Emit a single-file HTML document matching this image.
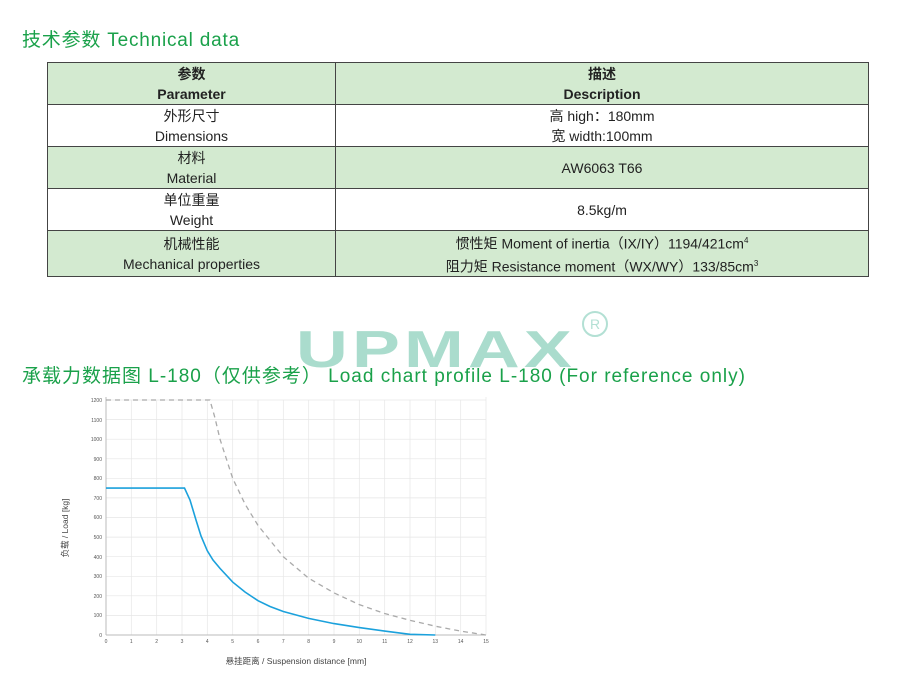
<!DOCTYPE html><html><head><meta charset="utf-8"><style>
body{margin:0;width:900px;height:682px;background:#fff;position:relative;overflow:hidden;font-family:"Liberation Sans","Noto Sans CJK SC",sans-serif}
.t{position:absolute;color:#1aa14a;font-size:19px;white-space:nowrap;letter-spacing:0.8px}
table{position:absolute;left:47px;top:62px;width:822px;border-collapse:collapse;font-size:14px;color:#222}
td{border:1.5px solid #444;text-align:center;height:41px;padding:0;line-height:20px}
.g td{background:#d3ead0}
</style></head><body>
<div class="t" style="left:22px;top:25px">技术参数 Technical data</div>
<table>
<tr class="g"><td style="width:287px"><b>参数<br>Parameter</b></td><td><b>描述<br>Description</b></td></tr>
<tr><td>外形尺寸<br>Dimensions</td><td>高 high：180mm<br>宽 width:100mm</td></tr>
<tr class="g"><td>材料<br>Material</td><td>AW6063 T66</td></tr>
<tr><td>单位重量<br>Weight</td><td>8.5kg/m</td></tr>
<tr class="g"><td>机械性能<br>Mechanical properties</td><td>惯性矩 Moment of inertia（IX/IY）1194/421cm<sup style="font-size:8px">4</sup><br>阻力矩 Resistance moment（WX/WY）133/85cm<sup style="font-size:8px">3</sup></td></tr>
</table>
<div style="position:absolute;left:296px;top:320px;font-size:52px;line-height:60px;font-weight:bold;color:#aadccd;letter-spacing:3px;transform:scaleX(1.38);transform-origin:0 0">UPMAX</div>
<div style="position:absolute;left:582px;top:311px;width:22px;height:22px;border:2px solid #b3e0d4;border-radius:50%;color:#b3e0d4;font-size:14px;text-align:center;line-height:22px">R</div>
<div class="t" style="left:22px;top:361px;letter-spacing:1px;font-size:19px">承载力数据图 L-180（仅供参考） Load chart profile L-180 (For reference only)</div>
<svg style="position:absolute;left:0;top:0" width="900" height="682" font-family="Liberation Sans" font-size="5" fill="#555">
<g stroke="#e6e6e6" stroke-width="0.7">
<line x1="131.3" y1="400" x2="131.3" y2="635"/><line x1="156.7" y1="400" x2="156.7" y2="635"/><line x1="182" y1="400" x2="182" y2="635"/><line x1="207.3" y1="400" x2="207.3" y2="635"/><line x1="232.7" y1="400" x2="232.7" y2="635"/><line x1="258" y1="400" x2="258" y2="635"/><line x1="283.3" y1="400" x2="283.3" y2="635"/><line x1="308.7" y1="400" x2="308.7" y2="635"/><line x1="334" y1="400" x2="334" y2="635"/><line x1="359.3" y1="400" x2="359.3" y2="635"/><line x1="384.7" y1="400" x2="384.7" y2="635"/><line x1="410" y1="400" x2="410" y2="635"/><line x1="435.3" y1="400" x2="435.3" y2="635"/><line x1="460.7" y1="400" x2="460.7" y2="635"/><line x1="486" y1="397" x2="486" y2="635"/>
<line x1="106" y1="615.4" x2="486" y2="615.4"/><line x1="106" y1="595.8" x2="486" y2="595.8"/><line x1="106" y1="576.3" x2="486" y2="576.3"/><line x1="106" y1="556.7" x2="486" y2="556.7"/><line x1="106" y1="537.1" x2="486" y2="537.1"/><line x1="106" y1="517.5" x2="486" y2="517.5"/><line x1="106" y1="497.9" x2="486" y2="497.9"/><line x1="106" y1="478.3" x2="486" y2="478.3"/><line x1="106" y1="458.8" x2="486" y2="458.8"/><line x1="106" y1="439.2" x2="486" y2="439.2"/><line x1="106" y1="419.6" x2="486" y2="419.6"/><line x1="106" y1="400" x2="486" y2="400"/>
</g>
<line x1="106" y1="397" x2="106" y2="635" stroke="#bbb"/><line x1="106" y1="635" x2="486" y2="635" stroke="#bbb"/>
<g text-anchor="end"><text x="102" y="637">0</text><text x="102" y="617">100</text><text x="102" y="598">200</text><text x="102" y="578">300</text><text x="102" y="559">400</text><text x="102" y="539">500</text><text x="102" y="519">600</text><text x="102" y="500">700</text><text x="102" y="480">800</text><text x="102" y="461">900</text><text x="102" y="441">1000</text><text x="102" y="422">1100</text><text x="102" y="402">1200</text></g>
<g text-anchor="middle"><text x="106" y="643">0</text><text x="131.3" y="643">1</text><text x="156.7" y="643">2</text><text x="182" y="643">3</text><text x="207.3" y="643">4</text><text x="232.7" y="643">5</text><text x="258" y="643">6</text><text x="283.3" y="643">7</text><text x="308.7" y="643">8</text><text x="334" y="643">9</text><text x="359.3" y="643">10</text><text x="384.7" y="643">11</text><text x="410" y="643">12</text><text x="435.3" y="643">13</text><text x="460.7" y="643">14</text><text x="486" y="643">15</text></g>
<text x="296" y="664" font-size="8.5" text-anchor="middle" fill="#444" font-family="Liberation Sans, Noto Sans CJK SC">悬挂距离 / Suspension distance [mm]</text>
<text transform="translate(68,528) rotate(-90)" font-size="8.5" text-anchor="middle" fill="#444" font-family="Liberation Sans, Noto Sans CJK SC">负载 / Load [kg]</text>
<polyline fill="none" stroke="#aaa" stroke-width="1.3" stroke-dasharray="5,4" points="106,400 209.9,400 215,418 220,439.2 232.7,478.4 245,504 258,525.4 283.3,556.7 308.6,578.2 334,592.9 359.3,604.6 384.6,613.5 410,620.3 435.3,626.2 460.7,631.1 486,635"/>
<polyline fill="none" stroke="#1ba1dc" stroke-width="1.6" points="106,488.1 184.5,488.1 190,500 196,520 201,536 207.3,550.8 213,560 220,568.4 232.7,582.1 245,592 258,600.7 270,606.5 283.3,611.5 308.6,618.4 334,623.6 359.3,627.6 384.6,631.1 410,634.3 435.3,635"/>
</svg>
</body></html>
